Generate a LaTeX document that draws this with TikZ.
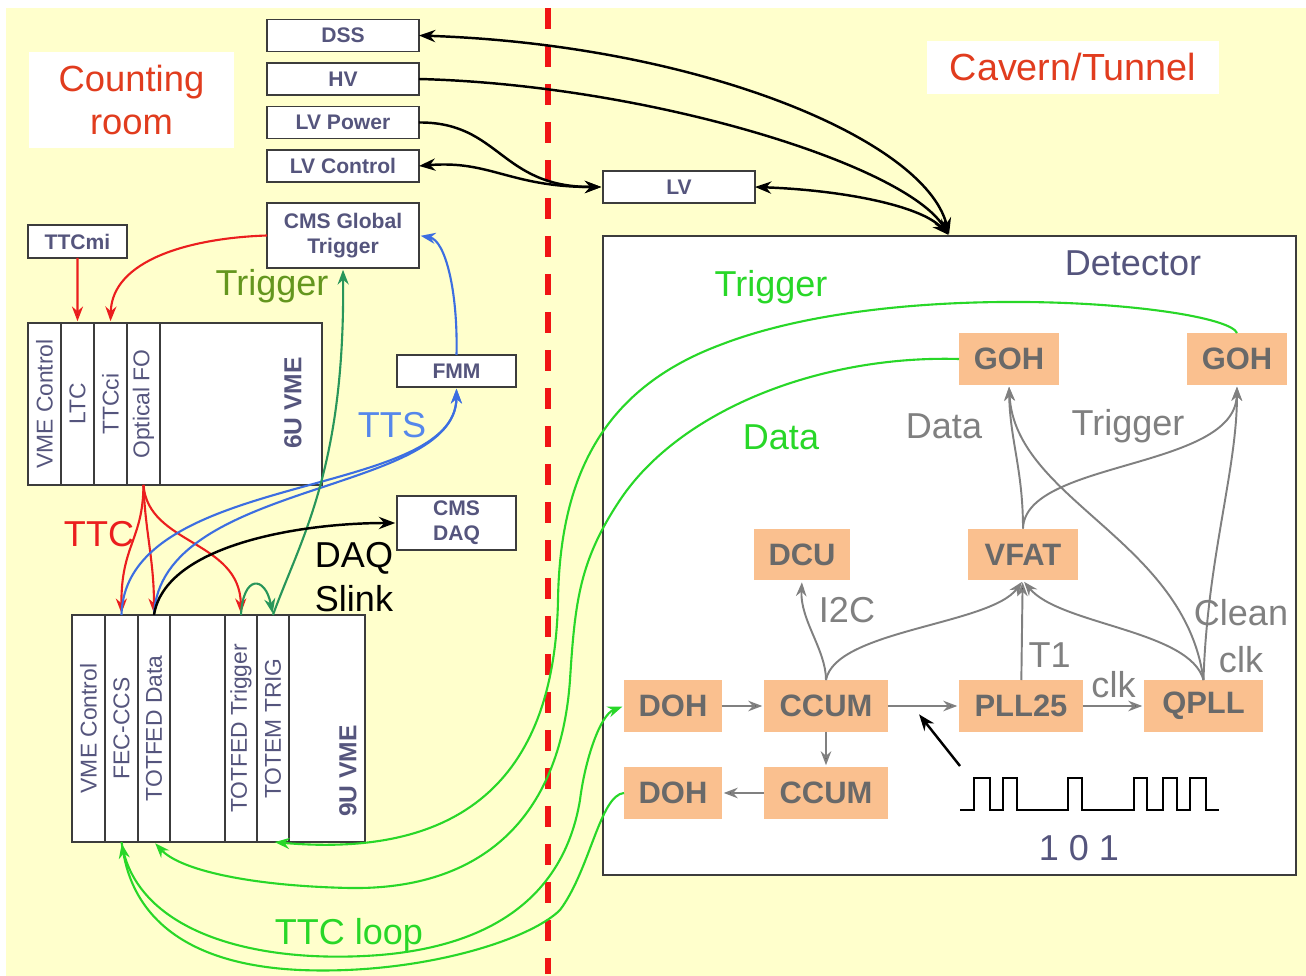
\documentclass[tikz,border=0pt]{standalone}
\usepackage{fontspec}
\setmainfont{Liberation Sans}
\usetikzlibrary{arrows.meta}
\usetikzlibrary{positioning}

\begin{document}
\begin{tikzpicture}[x=0.02cm,y=-0.02cm,>=Stealth,shorten >=1pt,
	box/.style={rectangle,draw=boxline,fill=white,line width=1.1pt,inner sep=0pt,outer sep=0pt,
		minimum width=3.04cm,minimum height=0.64cm,text=slate,font=\fontsize{12}{14}\selectfont\bfseries},
	blk/.style={rectangle,fill=peach,inner sep=0pt,outer sep=0pt,minimum height=1.04cm,text=boxtext,
		font=\fontsize{17.6}{20}\selectfont\bfseries},
	slot/.style={rectangle,draw=boxline,fill=white,line width=1.1pt,inner sep=0pt,outer sep=0pt,minimum width=0.66cm},
	slottext/.style={rotate=90,text=slate,font=\fontsize{13}{15}\selectfont},
	cratetext/.style={rotate=90,text=slate,font=\fontsize{14}{16}\selectfont\bfseries},
	room/.style={rectangle,fill=white,inner sep=0pt,text=roomred,align=center,font=\fontsize{20.7}{24.4}\selectfont},
	big/.style={font=\fontsize{20.5}{25}\selectfont},
	bline/.style={line width=1.4pt,draw=black},
	gray line/.style={->,draw=arrowgray,line width=1.1pt},
	loop line/.style={line width=1.2pt,draw=loopgreen}]
	
	\definecolor{bg}{RGB}{255,255,204}
	\definecolor{boxline}{RGB}{60,60,60}
	\definecolor{slate}{RGB}{85,85,125}
	\definecolor{peach}{RGB}{250,192,143}
	\definecolor{boxtext}{RGB}{105,105,105}
	\definecolor{arrowgray}{RGB}{128,128,128}
	\definecolor{ttcred}{RGB}{235,30,30}
	\definecolor{roomred}{RGB}{225,60,30}
	\definecolor{ttsblue}{RGB}{60,110,225}
	\definecolor{ttslabel}{RGB}{85,135,235}
	\definecolor{trigolive}{RGB}{100,150,30}
	\definecolor{trigsea}{RGB}{40,150,90}
	\definecolor{loopgreen}{RGB}{40,215,40}
	\definecolor{dashred}{RGB}{240,20,20}
	
	\useasboundingbox (0,0) rectangle (1306,976);
	\fill[bg] (6,8) rectangle (1306,976);
	\draw[dashred,line width=3.4pt,dash pattern=on 0.42cm off 0.34cm] (548,8) -- (548,976);
	
	% counting room
	\node[room,minimum width=4.1cm,minimum height=1.92cm] (count) at (131.5,100) {Counting\\room};
	\node[room,minimum width=5.84cm,minimum height=1.06cm,font=\fontsize{21.5}{24}\selectfont] (cavern) at (1073,67.5) {Cavern/Tunnel};
	
	\node[box] (dss) at (343,35.5) {DSS};
	\node[box] (hv) [below=0.23cm of dss] {HV};
	\node[box] (lvp) [below=0.23cm of hv] {LV Power};
	\node[box] (lvc) [below=0.23cm of lvp] {LV Control};
	\node[box,minimum height=1.3cm,align=center] (cmsgt) at (343,235.5) {CMS Global\\Trigger};
	\node[box,minimum width=1.98cm,minimum height=0.66cm] (ttcmi) at (77.5,241.5) {TTCmi};
	\node[box,minimum width=2.38cm] (fmm) at (456.5,371) {FMM};
	\node[box,minimum width=2.38cm,minimum height=1.08cm,align=center] (daq) at (456.5,523) {CMS\\DAQ};
	\node[box] (lv) at (679,187) {LV};
	
	% 6U crate
	\node[slot,minimum height=3.24cm,label={[slottext]center:VME Control}] (vmea) at (44.5,404) {};
	\node[slot,minimum height=3.24cm,label={[slottext]center:LTC}] (ltc) [right=0pt of vmea] {};
	\node[slot,minimum height=3.24cm,label={[slottext]center:TTCci}] (ttcci) [right=0pt of ltc] {};
	\node[slot,minimum height=3.24cm,label={[slottext]center:Optical FO}] (ofo) [right=0pt of ttcci] {};
	\node[slot,minimum height=3.24cm,minimum width=3.24cm] (sixu) [right=0pt of ofo] {};
	\node[cratetext] (sixlbl) at (293,403) {6U VME};
	
	% 9U crate
	\node[slot,minimum height=4.54cm,label={[slottext]center:VME Control}] (vmeb) at (88.5,728.5) {};
	\node[slot,minimum height=4.54cm,label={[slottext]center:FEC-CCS}] (fec) [right=0pt of vmeb] {};
	\node[slot,minimum height=4.54cm,minimum width=0.64cm,label={[slottext]center:TOTFED Data}] (tdata) [right=0pt of fec] {};
	\node[slot,minimum height=4.54cm,minimum width=1.1cm] (spare) [right=0pt of tdata] {};
	\node[slot,minimum height=4.54cm,minimum width=0.64cm,label={[slottext]center:TOTFED Trigger}] (ttrg) [right=0pt of spare] {};
	\node[slot,minimum height=4.54cm,minimum width=0.64cm,label={[slottext]center:TOTEM TRIG}] (ttrig) [right=0pt of ttrg] {};
	\node[slot,minimum height=4.54cm,minimum width=1.52cm] (nineu) [right=0pt of ttrig] {};
	\node[cratetext] (ninelbl) at (348,771) {9U VME};
	
	% detector
	\node[rectangle,draw=boxline,fill=white,line width=1.1pt,inner sep=0pt,outer sep=0pt,
		minimum width=13.86cm,minimum height=12.78cm] (det) at (949.5,555.5) {};
	\node[big,text=slate] (detlbl) at (1133,263) {Detector};
	
	\node[blk,minimum width=2cm] (gohd) at (1009,359) {GOH};
	\node[blk,minimum width=2cm] (goht) at (1237,359) {GOH};
	\node[blk,minimum width=1.92cm] (dcu) at (802,554.5) {DCU};
	\node[blk,minimum width=2.2cm] (vfat) at (1023,554.5) {VFAT};
	\node[blk,minimum width=1.96cm] (doha) at (673,706) {DOH};
	\node[blk,minimum width=2.48cm] (ccuma) at (826,706) {CCUM};
	\node[blk,minimum width=2.48cm] (pll) at (1021,706) {PLL25};
	\node[blk,minimum width=2.38cm] (qpll) at (1203.5,706) {QPLL};
	\node[blk,minimum width=1.96cm] (dohb) [below=0.7cm of doha] {DOH};
	\node[blk,minimum width=2.48cm] (ccumb) [below=0.7cm of ccuma] {CCUM};
	
	% power and DSS
	\draw[bline,<->] (dss.east) .. controls (700,45) and (925,140) .. (det.north);
	\draw[bline,->] (hv.east) .. controls (650,85) and (905,165) .. (det.north);
	\draw[bline,<->] (lv.east) .. controls (840,190) and (920,205) .. (det.north);
	\draw[bline,->] (lvp.east) .. controls (500,122) and (500,187) .. (lv.west);
	\draw[bline,<->] (lvc.east) .. controls (490,160) and (510,187) .. (lv.west);
	
	% TTC
	\path[->,draw=ttcred,line width=1.2pt]
	(ttcmi) edge (ltc);
	\draw[->,draw=ttcred,line width=1.2pt] (cmsgt.west) .. controls (190,238) and (112,260) .. (ttcci.north);
	\draw[->,draw=ttcred,line width=1.2pt] (ofo.south) .. controls (143,540) and (121,545) .. (fec.north);
	\draw[->,draw=ttcred,line width=1.2pt] (ofo.south) .. controls (145,530) and (154,560) .. (tdata.north);
	\draw[->,draw=ttcred,line width=1.2pt] (ofo.south) .. controls (148,545) and (240,540) .. (ttrg.north);
	\node[big,text=ttcred] (ttclbl) at (99,534) {TTC};
	
	% TTS
	\draw[->,draw=ttsblue,line width=1.2pt] (fec.north) .. controls (125,470) and (456,500) .. (fmm.south);
	\draw[->,draw=ttsblue,line width=1.2pt] (tdata.north) .. controls (160,480) and (456,495) .. (fmm.south);
	\draw[->,draw=ttsblue,line width=1.2pt] (fmm.north) .. controls (458,290) and (445,240) .. (cmsgt.east);
	\node[big,text=ttslabel] (ttslbl) at (392,425) {TTS};
	
	% trigger to global trigger
	\draw[->,draw=trigsea,line width=1.2pt] (ttrg.north) .. controls (243,575) and (265,575) .. (ttrig.north);
	\draw[->,draw=trigsea,line width=1.2pt] (ttrig.north) .. controls (300,540) and (345,470) .. (cmsgt.south);
	\node[big,text=trigolive] (triglbl) at (272,286) {Trigger};
	
	% DAQ
	\draw[bline,->] (tdata.north) .. controls (165,545) and (300,523) .. (daq.west);
	\node[big,align=center] (daqlbl) at (354,577) {DAQ\\Slink};
	
	% optical links
	\draw[loop line,->] (goht.north) .. controls (1225,305) and (900,275) .. (720,345)
		.. controls (600,390) and (560,480) .. (558,600)
		.. controls (555,760) and (480,860) .. (ttrig.south);
	\draw[loop line,->] (gohd.west) .. controls (820,355) and (680,410) .. (620,500)
		.. controls (580,560) and (575,600) .. (570,680)
		.. controls (560,820) and (480,890) .. (350,888)
		.. controls (250,886) and (180,870) .. (tdata.south);
	\draw[loop line,->] (fec.south) .. controls (135,930) and (250,965) .. (380,955)
		.. controls (500,945) and (565,890) .. (580,800)
		.. controls (585,760) and (600,715) .. (doha.west);
	\draw[loop line,->] (dohb.west) .. controls (600,795) and (590,870) .. (560,910)
		.. controls (530,940) and (420,975) .. (300,970)
		.. controls (190,965) and (135,920) .. (fec.south);
	\node[big,text=loopgreen] (trigglbl) at (771,287) {Trigger};
	\node[big,text=loopgreen] (datalbl) at (781,437) {Data};
	\node[big,text=loopgreen] (looplbl) at (349,935) {TTC loop};
	
	% detector internals
	\path[gray line,every node/.style={big,text=arrowgray}]
	(doha) edge (ccuma)
	(ccuma) edge (pll)
	(pll) edge node[above=1pt] {clk} (qpll)
	(ccuma) edge (ccumb)
	(ccumb) edge (dohb)
	(pll) edge node[right,pos=0.25] {T1} (vfat);
	\draw[gray line] (ccuma.north) .. controls (826,650) and (800,620) .. (dcu.south);
	\draw[gray line] (ccuma.north) .. controls (835,630) and (990,625) .. (vfat.south);
	\draw[gray line] (qpll.north) .. controls (1190,630) and (1060,625) .. (vfat.south);
	\draw[gray line] (qpll.north) .. controls (1185,540) and (1015,500) .. (gohd.south);
	\draw[gray line] (qpll.north) .. controls (1207,560) and (1237,470) .. (goht.south);
	\draw[gray line] (vfat.north) .. controls (1023,470) and (1010,440) .. (gohd.south);
	\draw[gray line] (vfat.north) .. controls (1025,460) and (1235,470) .. (goht.south);
	\node[big,text=arrowgray] (i2c) at (847,610) {I2C};
	\node[big,text=arrowgray] (datag) at (944,426) {Data};
	\node[big,text=arrowgray] (trigg) at (1128,426) {Trigger};
	\node[big,text=arrowgray,align=center,font=\fontsize{20.5}{27}\selectfont] (clean) at (1241,636) {Clean\\clk};
	
	% clock pattern
	\coordinate (pulse) at (960,766);
	\coordinate (pulsetip) at (918,713);
	\draw[bline,->] (pulse) -- (pulsetip);
	\draw[line width=1pt] (960,810) -- (974,810) -- (974,778) -- (990,778) -- (990,810) -- (1003,810)
		-- (1003,778) -- (1017,778) -- (1017,810) -- (1068,810) -- (1068,778) -- (1082,778) -- (1082,810)
		-- (1134,810) -- (1134,778) -- (1147,778) -- (1147,810) -- (1163,810) -- (1163,778) -- (1177,778)
		-- (1177,810) -- (1190,810) -- (1190,778) -- (1206,778) -- (1206,810) -- (1221,810);
	\node[big,text=slate] (bits) at (1079,848) {1 0 1};
	
\end{tikzpicture}
\end{document}
